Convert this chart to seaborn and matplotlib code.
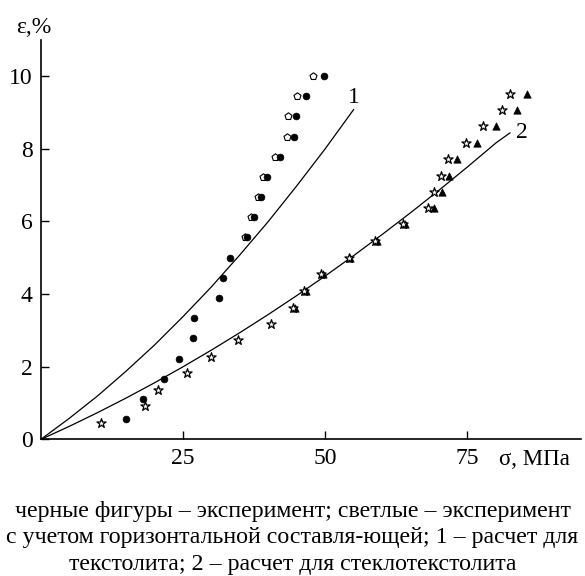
import matplotlib
matplotlib.use("Agg")
import matplotlib.pyplot as plt
import seaborn as sns

# =========================
# Данные
# =========================
# текстолит: черные кружки – эксперимент
circ_x = [15.0, 18.0, 21.7, 24.3, 26.8, 26.9, 31.3, 32.1, 33.2, 36.2, 37.4,
          38.7, 39.8, 42.0, 44.5, 44.9, 46.6, 49.7]
circ_y = [0.56, 1.11, 1.67, 2.22, 2.78, 3.33, 3.89, 4.44, 5.00, 5.56, 6.11,
          6.67, 7.22, 7.78, 8.33, 8.89, 9.44, 10.00]

# текстолит: светлые пятиугольники – с учетом горизонтальной составляющей
pent_x = [35.9, 37.0, 38.1, 39.1, 41.1, 43.2, 43.5, 45.0, 47.8]
pent_y = [5.56, 6.11, 6.67, 7.22, 7.78, 8.33, 8.89, 9.44, 10.00]

# стеклотекстолит: светлые звездочки
star_x = [10.6, 18.3, 20.6, 25.7, 29.9, 34.7, 40.5, 44.4, 46.3, 49.3, 54.1,
          58.8, 63.6, 68.0, 69.2, 70.4, 71.5, 74.7, 77.7, 81.0, 82.5]
star_y = [0.46, 0.92, 1.36, 1.82, 2.28, 2.74, 3.18, 3.63, 4.09, 4.55, 5.00,
          5.46, 5.92, 6.36, 6.81, 7.26, 7.72, 8.17, 8.62, 9.06, 9.52]

# стеклотекстолит: черные треугольники
tri_x = [44.7, 46.6, 49.6, 54.4, 59.1, 64.0, 69.1, 70.5, 71.8, 73.2, 76.6,
         80.0, 83.7, 85.5]
tri_y = [3.63, 4.09, 4.55, 5.00, 5.46, 5.92, 6.36, 6.81, 7.26, 7.72, 8.17,
         8.62, 9.06, 9.52]

# расчетные кривые
calc1_x = [0, 5, 10, 15, 20, 25, 30, 35, 40, 45, 50, 55]
calc1_y = [0, 0.58, 1.20, 1.88, 2.60, 3.38, 4.20, 5.08, 6.00, 6.98, 8.00, 9.08]

calc2_x = [0, 5, 10, 15, 20, 25, 30, 35, 40, 45, 50, 55, 60, 65, 70, 75, 80, 82.5]
calc2_y = [0, 0.36, 0.74, 1.14, 1.56, 2.00, 2.46, 2.94, 3.44, 3.96, 4.50, 5.06,
           5.64, 6.24, 6.86, 7.50, 8.16, 8.44]

y_ticks = [0, 2, 4, 6, 8, 10]
x_ticks = [25, 50, 75]

caption = ("черные фигуры – эксперимент; светлые – эксперимент\n"
           "с учетом горизонтальной составля-ющей; 1 – расчет для\n"
           "текстолита; 2 – расчет для стеклотекстолита")

# =========================
# Оформление
# =========================
sns.set_style("ticks")
plt.rcParams["font.family"] = ["Liberation Serif", "DejaVu Serif"]
plt.rcParams["text.color"] = "black"
plt.rcParams["axes.edgecolor"] = "black"

fig = plt.figure(figsize=(5.85, 5.76), dpi=100)
ax = fig.add_axes([0.0696, 0.237, 0.924, 0.694])

sns.lineplot(x=calc1_x, y=calc1_y, ax=ax, color="black", lw=0.9, sort=False)
sns.lineplot(x=calc2_x, y=calc2_y, ax=ax, color="black", lw=0.9, sort=False)

sns.scatterplot(x=pent_x, y=pent_y, ax=ax, marker="p", color="white",
                edgecolor="black", linewidth=0.8, s=28, zorder=3)
sns.scatterplot(x=circ_x, y=circ_y, ax=ax, marker="o", color="black",
                edgecolor="black", linewidth=0.5, s=24, zorder=4)
sns.scatterplot(x=tri_x, y=tri_y, ax=ax, marker="^", color="black",
                edgecolor="black", linewidth=0.5, s=28, zorder=3)
sns.scatterplot(x=star_x, y=star_y, ax=ax, marker="*", color="white",
                edgecolor="black", linewidth=0.9, s=48, zorder=4)

ax.text(calc1_x[-1] + 0.1, calc1_y[-1] + 0.34, "1", fontsize=17,
        ha="center", va="center")
ax.text(calc2_x[-1] + 2.0, calc2_y[-1] + 0.02, "2", fontsize=17,
        ha="center", va="center")

ax.set_xlim(0, 95)
ax.set_ylim(0, 11)
ax.set_xticks(x_ticks)
ax.set_yticks(y_ticks)
ax.tick_params(direction="in", length=6, width=1.0, labelsize=17, pad=6,
               colors="black")
for s in ["top", "right"]:
    ax.spines[s].set_visible(False)
for s in ["left", "bottom"]:
    ax.spines[s].set_linewidth(1.2)

ax.set_xlabel("")
ax.set_ylabel("")
fig.text(0.057, 0.953, "ε,%", fontsize=17, ha="center", va="center")
fig.text(0.913, 0.203, "σ, МПа", fontsize=16.5, ha="center", va="center")

fig.text(0.5, 0.066, caption, fontsize=17.2, ha="center", va="center",
         linespacing=1.36)

fig.savefig("out.png", dpi=100)
plt.close(fig)
